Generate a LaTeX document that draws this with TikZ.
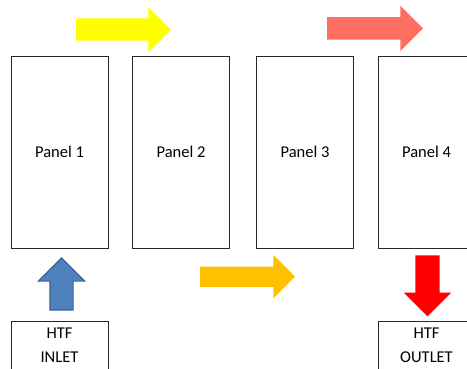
\documentclass[tikz,border=0pt]{standalone}
\usepackage{fontspec}
\setmainfont{Carlito}
\usepackage{tikz}
\usetikzlibrary{calc,positioning,shapes.arrows}
\definecolor{flowyellow}{HTML}{FFFF00}
\definecolor{flowsalmon}{HTML}{FF6F61}
\definecolor{floworange}{HTML}{FFC000}
\definecolor{flowred}{HTML}{FF0000}
\definecolor{flowblue}{HTML}{4F81BD}
\definecolor{flowblueedge}{HTML}{3A6595}

\tikzset{
  panel/.style={draw=black!85, line width=0.9pt, minimum width=97pt, minimum height=192pt, inner sep=0pt, text=black},
  htfbox/.style={draw=black!85, line width=0.9pt, minimum width=97pt, minimum height=49pt, anchor=north, align=center, inner sep=0pt, text=black},
  blockarrow/.style={single arrow, single arrow head extend=11.5pt, inner sep=11pt, outer sep=0pt, anchor=tail, draw=none},
}

\begin{document}
\begin{tikzpicture}[x=1pt, y=-1pt, font=\fontsize{16.5}{24}\selectfont]
\useasboundingbox (0,0) rectangle (467,368);
\clip (0,0) rectangle (467,368);

% panels
\node[panel] (p1) at (59.5,152) {Panel 1};
\node[panel] (p2) at (181,152) {Panel 2};
\node[panel] (p3) at (305,152) {Panel 3};
\node[panel] (p4) at (426.5,152) {Panel 4};

% inlet / outlet
\node[htfbox] (in) at (59.5,320.7) {HTF\\INLET};
\node[htfbox] (out) at (426.5,320.7) {HTF\\OUTLET};

% flow arrows
\node[blockarrow, fill=flowyellow, minimum height=95pt] (a1) at (76,29.5) {};
\node[blockarrow, fill=floworange, minimum height=95pt, inner sep=10pt] (a2) at (200,276.7) {};
\node[blockarrow, fill=flowsalmon, minimum height=96pt] (a3) at (327,28.3) {};
\node[blockarrow, fill=flowblue, draw=flowblueedge, line width=1.2pt, minimum height=52pt, rotate=90] (a4) at (61.5,310) {};
\node[blockarrow, fill=flowred, minimum height=61pt, inner sep=12pt, rotate=-90] (a5) at (427.5,255.3) {};
\end{tikzpicture}
\end{document}
